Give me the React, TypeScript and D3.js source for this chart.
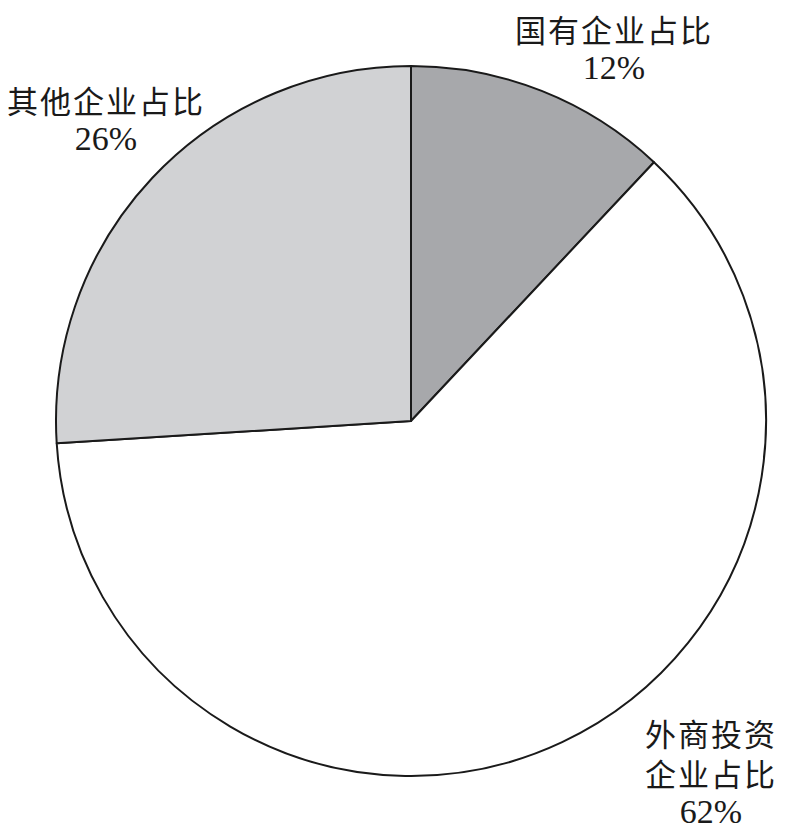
import React from "react";
import * as d3 from "d3";

const categories = ["国有企业占比", "外商投资企业占比", "其他企业占比"];
const values = [12, 62, 26];
const colors = ["#a7a8ab", "#ffffff", "#d1d2d4"];
const nameLines = [["国有企业占比"], ["外商投资", "企业占比"], ["其他企业占比"]];
const pctLabels = ["12%", "62%", "26%"];
const labelPos = [
  [614, 42],
  [711, 746],
  [106, 113],
];

export default function App() {
  const W = 788, H = 831;
  const cx = 411, cy = 421, r = 355;
  const pie = d3.pie<number>().sort(null).value((d) => d)(values);
  const arc = d3.arc<d3.PieArcDatum<number>>().innerRadius(0).outerRadius(r);
  return (
    <svg width={W} height={H} style={{ position: "absolute", left: 0, top: 0, background: "#fff" }}>
      <g transform={`translate(${cx},${cy})`}>
        {pie.map((p, i) => (
          <path key={categories[i]} d={arc(p) || ""} fill={colors[i]} stroke="#1a1a1a" strokeWidth={2} strokeLinejoin="round" />
        ))}
      </g>
      {nameLines.map((lines, i) => (
        <g key={i}>
          {lines.map((l, j) => (
            <text key={j} x={labelPos[i][0]} y={labelPos[i][1] + j * 40} textAnchor="middle" fill="#1a1a1a"
              style={{ fontFamily: "Noto Sans CJK SC", fontSize: 31, letterSpacing: 2 }}>{l}</text>
          ))}
          <text x={labelPos[i][0]} y={labelPos[i][1] + (lines.length - 1) * 40 + 37} textAnchor="middle" fill="#1a1a1a"
            style={{ fontFamily: "Liberation Serif", fontSize: 34 }}>{pctLabels[i]}</text>
        </g>
      ))}
    </svg>
  );
}
